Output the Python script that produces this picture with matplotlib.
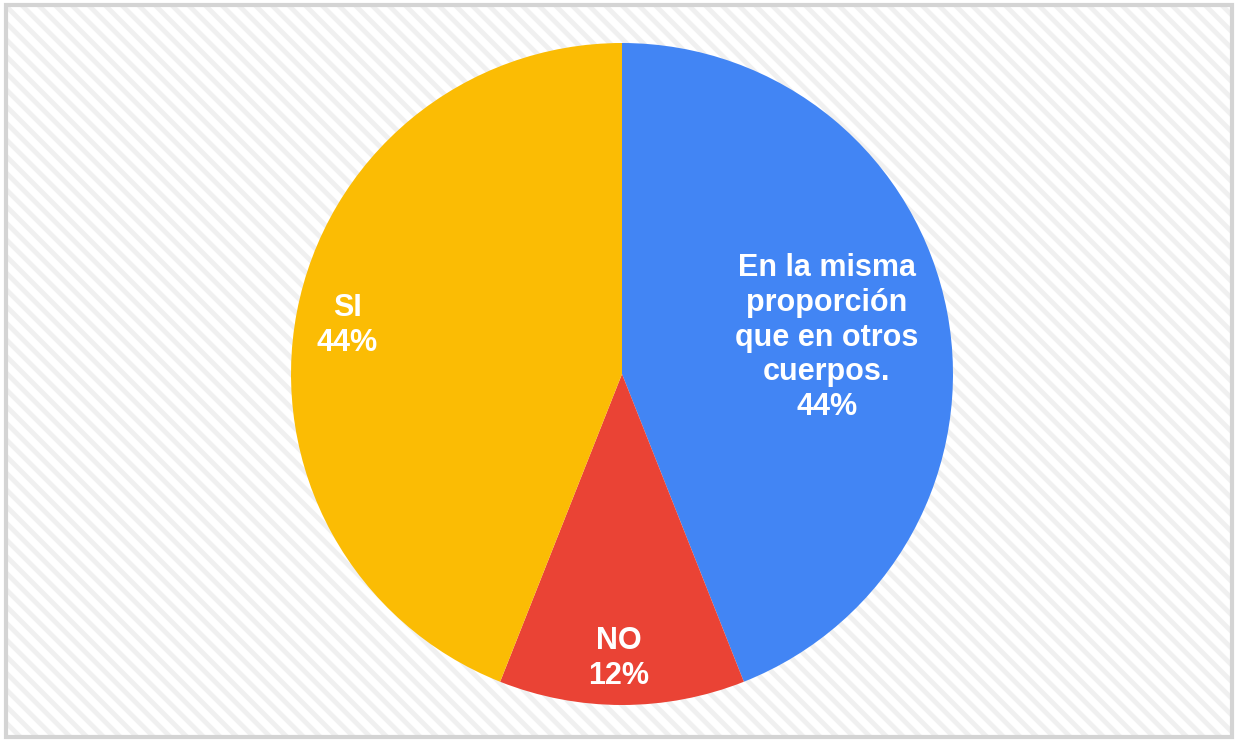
import numpy as np
import matplotlib.pyplot as plt
from matplotlib.patches import Rectangle

plt.rcParams['font.family'] = ['Liberation Sans', 'DejaVu Sans']
plt.rcParams['hatch.linewidth'] = 3.5

labels = ['En la misma\nproporción\nque en otros\ncuerpos.', 'NO', 'SI']
shares = [44, 12, 44]
colors = ['#4285F4', '#EA4335', '#FBBC04']
label_dist = [0.64, 0.85, 0.835]

fig = plt.figure(figsize=(12.37, 7.42), dpi=100)
fig.patch.set_facecolor('white')

# striped background with grey frame, in its own axes behind the pie
bg = fig.add_axes([0, 0, 1, 1], zorder=-5)
bg.set_xlim(0, 1237)
bg.set_ylim(742, 0)
bg.axis('off')
bg.add_patch(Rectangle((6, 5), 1226, 732, facecolor='white',
                       edgecolor='#f0f0f0', hatch='\\\\', linewidth=0))
bg.add_patch(Rectangle((6, 5), 1226, 732, facecolor='none',
                       edgecolor='#d4d4d4', linewidth=3))

ax = fig.add_axes([291 / 1237, 37 / 742, 662 / 1237, 662 / 742], zorder=1)
ax.patch.set_alpha(0)
wedges, _ = ax.pie(shares, colors=colors, startangle=90, counterclock=False,
                   radius=1.0)
ax.set_xlim(-1, 1)
ax.set_ylim(-1, 1)
ax.set_aspect('equal')
ax.axis('off')

for w, lab, val, d in zip(wedges, labels, shares, label_dist):
    ang = np.deg2rad((w.theta1 + w.theta2) / 2)
    ax.text(d * np.cos(ang) - 0.01, d * np.sin(ang) - 0.01, f'{lab}\n{val}%',
            ha='center', va='center', color='white', fontsize=22,
            fontweight='bold', linespacing=1.2)

fig.savefig('out.png', dpi=100)
